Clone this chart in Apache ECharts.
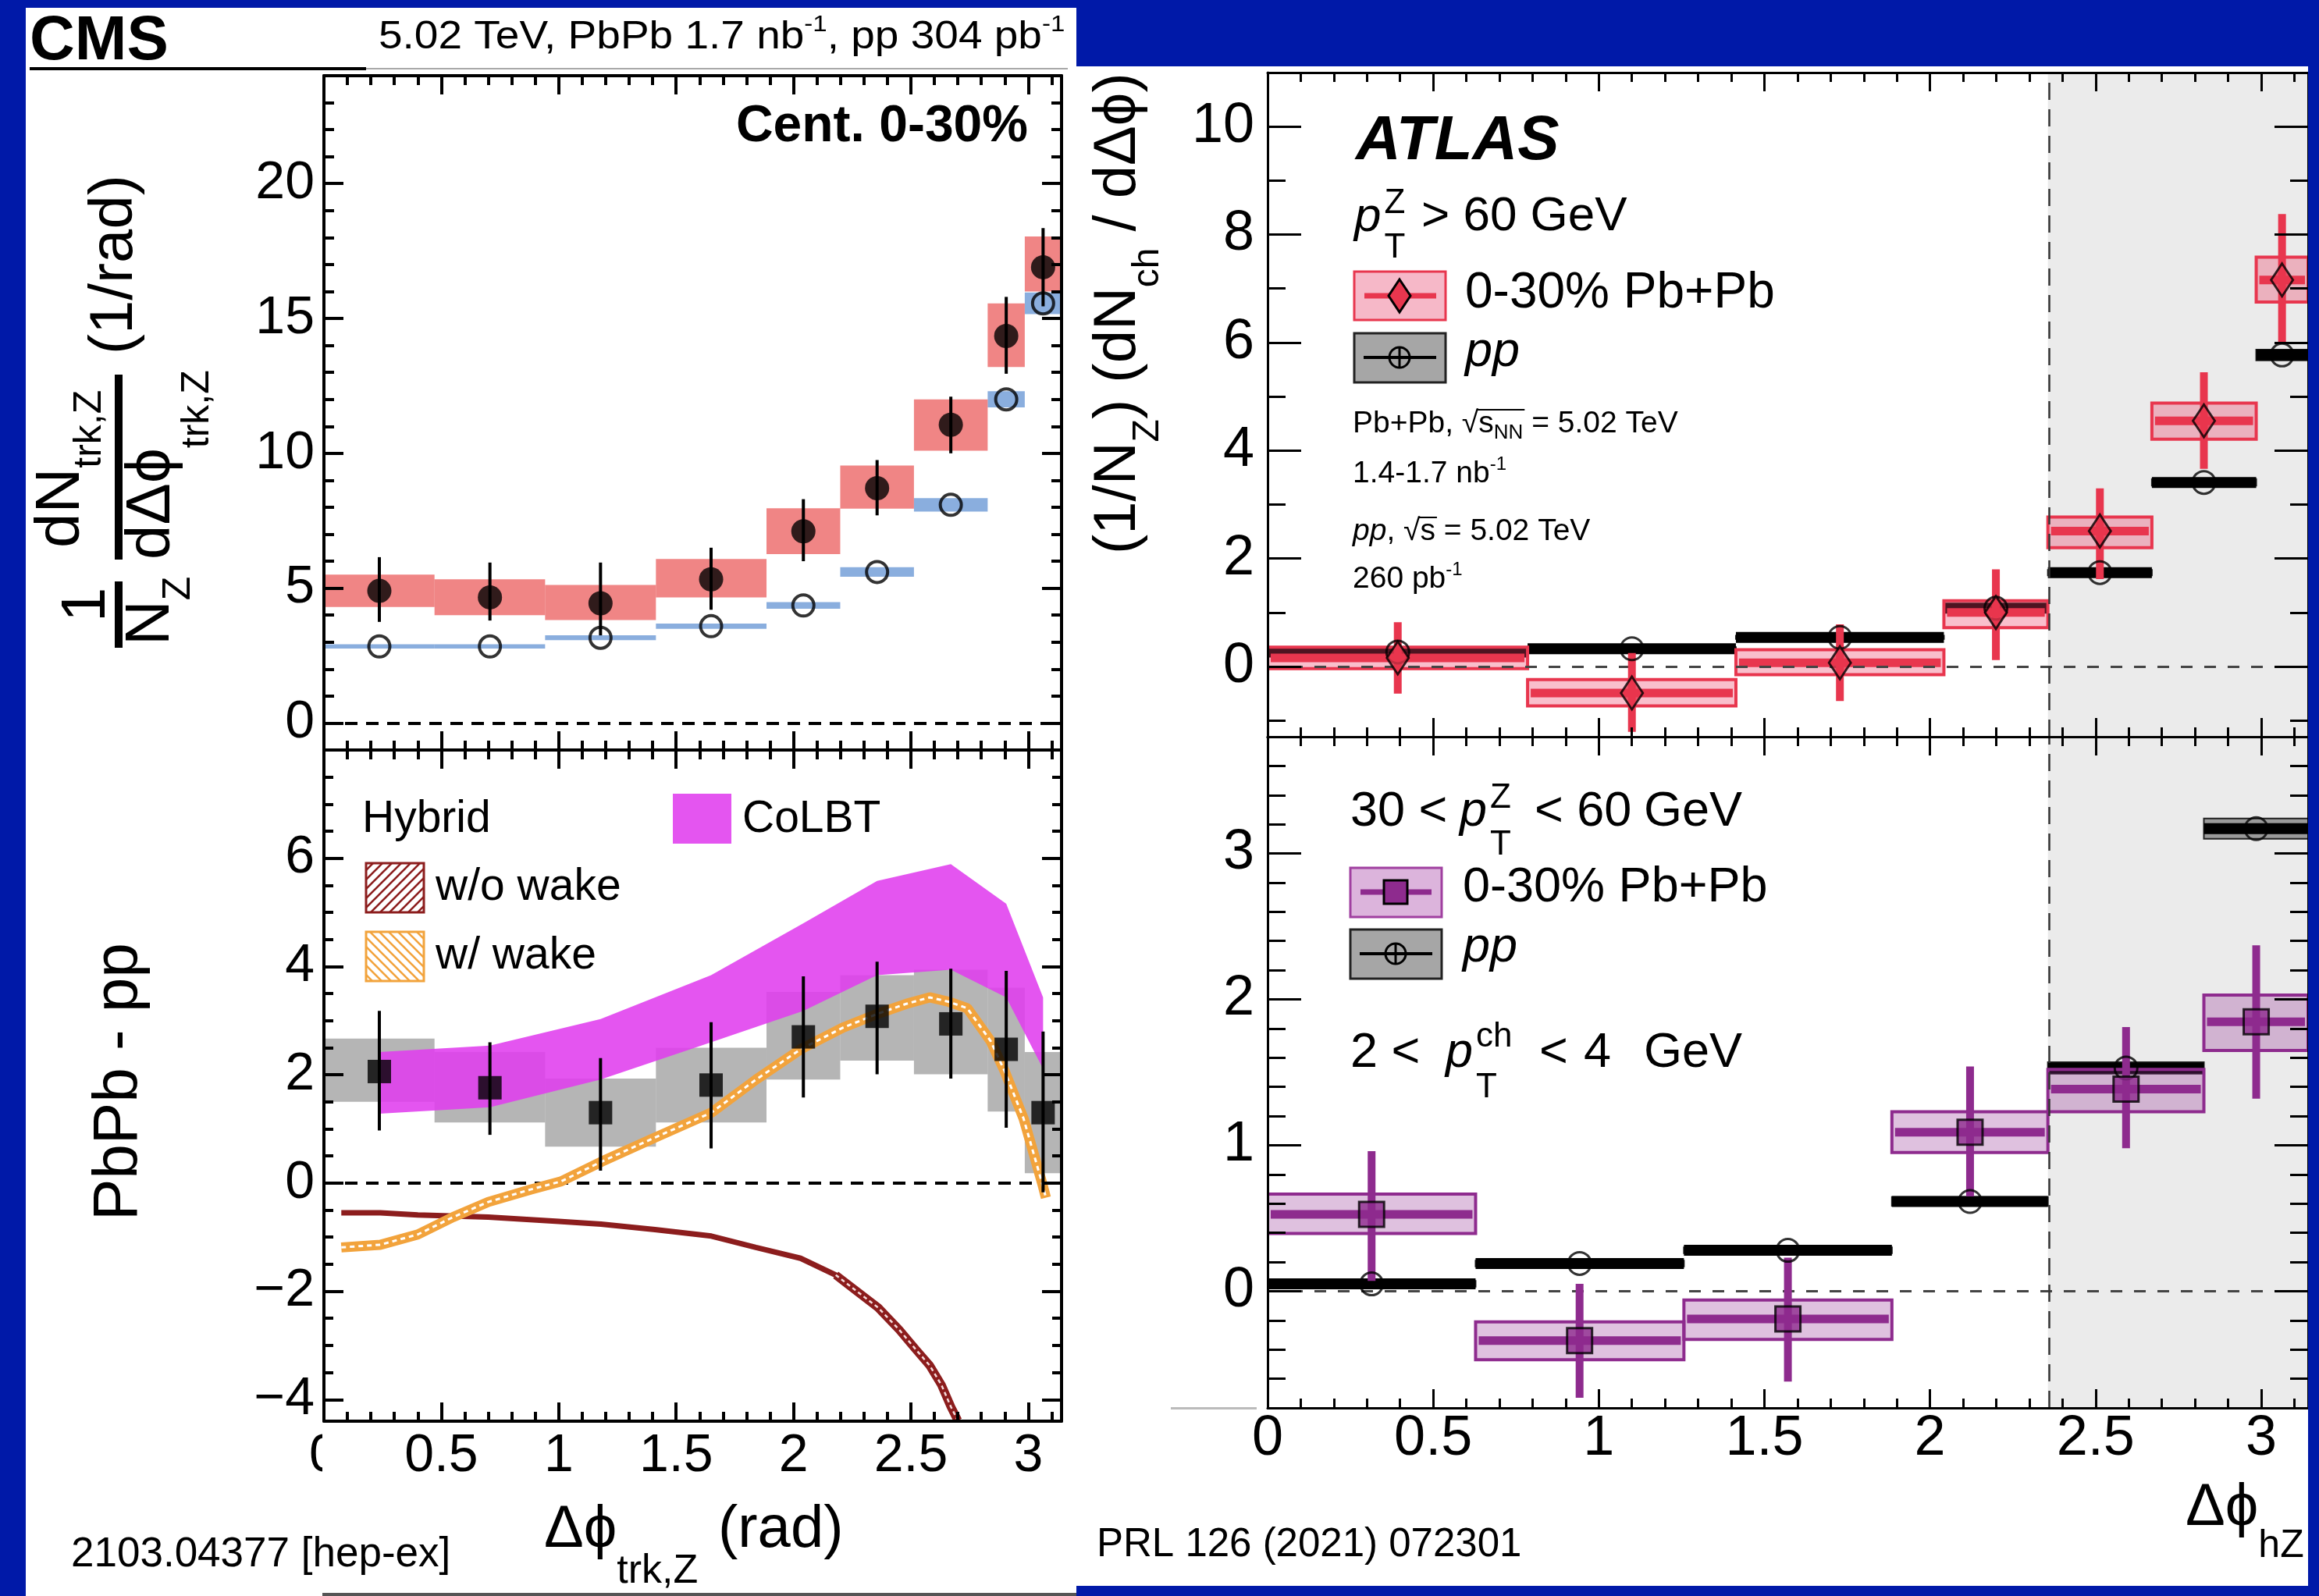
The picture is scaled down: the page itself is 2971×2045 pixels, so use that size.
<!DOCTYPE html>
<html><head><meta charset="utf-8">
<script src="https://cdn.jsdelivr.net/npm/echarts@6.0.0/dist/echarts.min.js"></script>
<style>html,body{margin:0;padding:0;background:#0019a8;}#c{width:2971px;height:2045px;}</style>
</head><body><div id="c"></div>
<script>
const PI = Math.PI;

// ---------------- CMS (left) ----------------
const cmsBinEdges   = [0, 0.471, 0.942, 1.414, 1.885, 2.199, 2.513, 2.827, 2.985, PI];
const cmsBinCenters = [0.236, 0.707, 1.178, 1.649, 2.042, 2.356, 2.670, 2.906, 3.063];
const cmsPbPb       = [4.9, 4.66, 4.44, 5.33, 7.11, 8.71, 11.06, 14.35, 16.9];
const cmsPbPbStatLo = [3.75, 3.8, 3.25, 4.2, 6.0, 7.7, 10.0, 12.95, 15.45];
const cmsPbPbStatHi = [6.15, 5.95, 5.95, 6.5, 8.3, 9.75, 12.1, 15.8, 18.35];
const cmsPbPbSysLo  = [4.3, 4.0, 3.82, 4.66, 6.26, 7.95, 10.1, 13.2, 16.0];
const cmsPbPbSysHi  = [5.5, 5.33, 5.12, 6.08, 7.96, 9.55, 12.0, 15.56, 18.04];
const cmsPP         = [2.84, 2.84, 3.16, 3.59, 4.36, 5.6, 8.09, 12.0, 15.56];
const cmsPPSys      = [0.08, 0.08, 0.09, 0.1, 0.12, 0.18, 0.25, 0.3, 0.4];

const cmsDiff       = [2.06, 1.76, 1.30, 1.81, 2.70, 3.08, 2.94, 2.47, 1.30];
const cmsDiffStatLo = [0.97, 0.89, 0.23, 0.64, 1.58, 2.01, 1.93, 1.02, -0.17];
const cmsDiffStatHi = [3.18, 2.6, 2.31, 2.97, 3.82, 4.09, 3.96, 3.92, 2.8];
const cmsDiffSysLo  = [1.50, 1.12, 0.67, 1.12, 1.91, 2.26, 2.01, 1.32, 0.18];
const cmsDiffSysHi  = [2.67, 2.42, 1.93, 2.5, 3.53, 3.84, 3.94, 3.61, 2.42];

const colbtX  = [0.236, 0.707, 1.178, 1.649, 2.042, 2.356, 2.670, 2.906, 3.063];
const colbtLo = [1.28, 1.40, 1.91, 2.60, 3.18, 3.84, 3.94, 3.43, 2.11];
const colbtHi = [2.42, 2.54, 3.03, 3.84, 4.80, 5.58, 5.89, 5.16, 3.43];

const hybWakeX = [0.074, 0.24, 0.40, 0.55, 0.70, 0.88, 1.01, 1.18, 1.41, 1.65, 1.84, 2.03, 2.21, 2.36, 2.48, 2.58, 2.66, 2.74, 2.84, 2.90, 2.98, 3.06, 3.075];
const hybWakeY = [-1.19, -1.14, -0.95, -0.63, -0.35, -0.12, 0.03, 0.39, 0.84, 1.30, 1.91, 2.47, 2.87, 3.13, 3.31, 3.43, 3.35, 3.23, 2.62, 2.06, 1.19, -0.02, -0.27];
const hybNoWakeX = [0.074, 0.24, 0.40, 0.70, 1.00, 1.18, 1.41, 1.65, 1.84, 2.03, 2.18, 2.27, 2.36, 2.45, 2.52, 2.58, 2.63, 2.67, 2.70];
const hybNoWakeY = [-0.55, -0.55, -0.59, -0.63, -0.71, -0.76, -0.86, -0.98, -1.19, -1.39, -1.70, -2.0, -2.30, -2.71, -3.07, -3.37, -3.73, -4.13, -4.39];

// ---------------- ATLAS (right) ----------------
const atlasHiEdges   = [0, 0.785, 1.414, 2.042, 2.356, 2.670, 2.985, PI];
const atlasHiCenters = [0.393, 1.100, 1.728, 2.199, 2.513, 2.827, 3.063];
const atlasHiPbPb    = [0.16, -0.49, 0.07, 1.0, 2.51, 4.55, 7.16];
const atlasHiStatLo  = [-0.5, -1.21, -0.64, 0.12, 1.62, 3.66, 5.97];
const atlasHiStatHi  = [0.82, 0.25, 0.78, 1.8, 3.3, 5.45, 8.38];
const atlasHiSysLo   = [-0.04, -0.73, -0.15, 0.72, 2.2, 4.21, 6.75];
const atlasHiSysHi   = [0.36, -0.24, 0.31, 1.22, 2.77, 4.88, 7.58];
const atlasHiPP      = [0.27, 0.33, 0.54, 1.08, 1.74, 3.41, 5.77];
const atlasHiPPSys   = [0.03, 0.03, 0.03, 0.04, 0.05, 0.06, 0.1];

const atlasLoEdges   = [0, 0.628, 1.257, 1.885, 2.356, 2.827, PI];
const atlasLoCenters = [0.314, 0.942, 1.571, 2.121, 2.592, 2.985];
const atlasLoPbPb    = [0.527, -0.338, -0.19, 1.09, 1.385, 1.846];
const atlasLoStatLo  = [0.07, -0.73, -0.62, 0.65, 0.98, 1.32];
const atlasLoStatHi  = [0.96, 0.05, 0.23, 1.54, 1.81, 2.37];
const atlasLoSysLo   = [0.396, -0.47, -0.33, 0.95, 1.23, 1.65];
const atlasLoSysHi   = [0.665, -0.21, -0.06, 1.23, 1.52, 2.03];
const atlasLoPP      = [0.05, 0.19, 0.28, 0.615, 1.53, 3.17];
const atlasLoPPSys   = [0.02, 0.02, 0.02, 0.03, 0.04, 0.07];
const atlasShadeStart = 2.356;

// ---------------- ticks ----------------
const cmsXTicks      = [0, 0.5, 1, 1.5, 2, 2.5, 3];
const cmsTopYTicks   = [0, 5, 10, 15, 20];
const cmsBotYTicks   = [-4, -2, 0, 2, 4, 6];
const atlasXTicks    = [0, 0.5, 1, 1.5, 2, 2.5, 3];
const atlasTopYTicks = [0, 2, 4, 6, 8, 10];
const atlasBotYTicks = [0, 1, 2, 3];

// =====================================================
const FONT = '"Liberation Sans", Arial, Helvetica, sans-serif';
const mc = document.createElement('canvas').getContext('2d');
function fontStr(p){ return (p.it?'italic ':'') + (p.b?'bold ':'') + p.s + 'px ' + FONT; }
function tw(p){ mc.font = fontStr(p); return mc.measureText(p.t).width; }
function richLine(x0, base, pieces, sx) {
  sx = sx || 1;
  let x = x0; const out = [];
  for (const p of pieces) {
    if (p.x !== undefined) x = p.x;
    x += p.dx || 0;
    p._x = x;
    out.push({type:'text', x: x, y: base + (p.dy||0) - 0.35*p.s, scaleX: sx, z: 50, silent: true,
      style:{text:p.t, font: fontStr(p), fill: p.c || '#000', align: p.al || 'left', verticalAlign:'middle',
             textAlign: p.al || 'left', textVerticalAlign:'middle'}});
    p._w = tw(p) * sx;
    if (p.adv !== false) x += p._w;
  }
  return out;
}

function rangeVals(a, b, step, skip) {
  const r = [];
  for (let k = 0; a + k*step <= b + 1e-9; k++) {
    const v = Math.round((a + k*step)*1000)/1000;
    if (!skip.some(s => Math.abs(s - v) < 1e-6)) r.push(v);
  }
  return r;
}

const grids = [
  {left: 415, top: 97, width: 945, height: 864},
  {left: 415, top: 961, width: 945, height: 860},
  {left: 1624, top: 93, width: 1333, height: 851},
  {left: 1624, top: 944, width: 1333, height: 860}
];

const xAxes = [], yAxes = [];
function addAxis(list, o) {
  list.push(Object.assign({type:'value', z: 10, silent: true, splitLine:{show:false}, minorTick:{show:false}, axisPointer:{show:false}}, o));
  return list.length - 1;
}
const fmt = v => v < 0 ? '\u2212' + Math.abs(v) : String(v);
function panel(g, xr, yr, c) {
  const lineOn = {show:true, onZero:false, lineStyle:{color:'#000', width:c.lw}};
  const lineOff = {show:false, onZero:false};
  const tick = (vals, len) => ({show:true, inside:true, length:len, customValues:vals, lineStyle:{color:'#000', width:c.lw}});
  const noLab = {show:false};
  const lab = (vals, margin) => ({show:true, customValues:vals, formatter: fmt, fontSize:c.fs, fontFamily:FONT, color:'#000', margin:margin});
  const X = (pos, line, tk, label) => addAxis(xAxes, {gridIndex:g, min:xr[0], max:xr[1], position:pos, axisLine:line, axisTick:tk, axisLabel:label});
  const Y = (pos, line, tk, label) => addAxis(yAxes, {gridIndex:g, min:yr[0], max:yr[1], position:pos, axisLine:line, axisTick:tk, axisLabel:label});
  const xm = X('bottom', lineOn, tick(c.xMaj, c.xMajLen), c.xLab ? lab(c.xMaj, c.xMargin) : noLab);
  X('bottom', lineOff, tick(c.xMin, c.xMinLen), noLab);
  X('top', lineOn, tick(c.xMaj, c.xMajLen), noLab);
  X('top', lineOff, tick(c.xMin, c.xMinLen), noLab);
  const ym = Y('left', lineOn, tick(c.yMaj, c.yMajLen), lab(c.yMaj, c.yMargin));
  Y('left', lineOff, tick(c.yMin, c.yMinLen), noLab);
  Y('right', lineOn, tick(c.yMaj, c.yMajLen), noLab);
  Y('right', lineOff, tick(c.yMin, c.yMinLen), noLab);
  return {x: xm, y: ym};
}

const cmsXMin = rangeVals(0.1, 3.1, 0.1, cmsXTicks);
const P0 = panel(0, [0, PI], [-1, 24], {lw:4, fs:68, xMaj:cmsXTicks, xMin:cmsXMin, xMajLen:24, xMinLen:12,
  yMaj:cmsTopYTicks, yMin:rangeVals(-1, 23, 1, cmsTopYTicks), yMajLen:25, yMinLen:13, xLab:false, yMargin:12});
const P1 = panel(1, [0, PI], [-4.4, 8], {lw:4, fs:68, xMaj:cmsXTicks, xMin:cmsXMin, xMajLen:24, xMinLen:12,
  yMaj:cmsBotYTicks, yMin:rangeVals(-4, 7.5, 0.5, cmsBotYTicks), yMajLen:25, yMinLen:12, xLab:true, xMargin:11, yMargin:12});
const atXMin = rangeVals(0.1, 3.1, 0.1, atlasXTicks);
const P2 = panel(2, [0, PI], [-1.3, 11], {lw:3, fs:72, xMaj:atlasXTicks, xMin:atXMin, xMajLen:24, xMinLen:12,
  yMaj:atlasTopYTicks, yMin:[-1, 1, 3, 5, 7, 9], yMajLen:43, yMinLen:23, xLab:false, yMargin:17});
const P3 = panel(3, [0, PI], [-0.8, 3.8], {lw:3, fs:72, xMaj:atlasXTicks, xMin:atXMin, xMajLen:24, xMinLen:12,
  yMaj:atlasBotYTicks, yMin:rangeVals(-0.8, 3.8, 0.2, atlasBotYTicks), yMajLen:43, yMinLen:23, xLab:true, xMargin:4, yMargin:17});

// ---------------- render helpers ----------------
function rectItem(fill, stroke, lw, center, centerW) {
  return (params, api) => {
    const a = api.coord([api.value(0), api.value(3)]);
    const b = api.coord([api.value(1), api.value(2)]);
    const ch = [{type:'rect', shape:{x:a[0], y:a[1], width:b[0]-a[0], height:b[1]-a[1]},
      style:{fill: fill, stroke: stroke || null, lineWidth: lw || 0}}];
    if (center) {
      const c0 = api.coord([api.value(0), api.value(4)]), c1 = api.coord([api.value(1), api.value(4)]);
      ch.push({type:'line', shape:{x1:c0[0] + (lw||0), y1:c0[1], x2:c1[0] - (lw||0), y2:c1[1]}, style:{stroke:center, lineWidth:centerW}});
    }
    return {type:'group', children: ch};
  };
}
function vbarItem(color, w) {
  return (params, api) => {
    const a = api.coord([api.value(0), api.value(1)]), b = api.coord([api.value(0), api.value(2)]);
    return {type:'line', shape:{x1:a[0], y1:a[1], x2:b[0], y2:b[1]}, style:{stroke:color, lineWidth:w}};
  };
}
function hbarItem(color, w) {
  return (params, api) => {
    const a = api.coord([api.value(0), api.value(2)]), b = api.coord([api.value(1), api.value(2)]);
    return {type:'line', shape:{x1:a[0], y1:a[1], x2:b[0], y2:b[1]}, style:{stroke:color, lineWidth:w}};
  };
}
function bandItem(xs, lo, hi, fill) {
  return (params, api) => {
    if (params.dataIndex !== 0) return null;
    const pts = [];
    for (let i = 0; i < xs.length; i++) pts.push(api.coord([xs[i], hi[i]]));
    for (let i = xs.length - 1; i >= 0; i--) pts.push(api.coord([xs[i], lo[i]]));
    return {type:'polygon', shape:{points:pts}, style:{fill:fill}};
  };
}

const series = [];
function S(P, o) { series.push(Object.assign({xAxisIndex:P.x, yAxisIndex:P.y, animation:false, silent:true}, o)); }
function custom(P, z, data, fn) { S(P, {type:'custom', z:z, data:data, renderItem:fn, clip:true}); }
function helper(P, markLine, markArea) {
  const o = {type:'scatter', z:1, symbolSize:0, data:[[0, 0]], markLine:markLine};
  if (markArea) o.markArea = markArea;
  S(P, o);
}

// ---- CMS top ----
helper(P0, {silent:true, symbol:['none','none'], animation:false, label:{show:false},
  lineStyle:{color:'#000', width:4, type:[16, 11]}, data:[{yAxis:0}]});
custom(P0, 3, cmsBinCenters.map((c,i)=>[cmsBinEdges[i], cmsBinEdges[i+1], cmsPP[i]-cmsPPSys[i], cmsPP[i]+cmsPPSys[i]]),
  rectItem('rgba(60,120,200,0.6)'));
custom(P0, 4, cmsBinCenters.map((c,i)=>[cmsBinEdges[i], cmsBinEdges[i+1], cmsPbPbSysLo[i], cmsPbPbSysHi[i]]),
  rectItem('rgba(232,64,64,0.64)'));
custom(P0, 5, cmsBinCenters.map((c,i)=>[c, cmsPbPbStatLo[i], cmsPbPbStatHi[i]]), vbarItem('#000', 4));
S(P0, {type:'scatter', z:6, symbol:'circle', symbolSize:27, data:cmsBinCenters.map((c,i)=>[c, cmsPP[i]]),
  itemStyle:{color:'rgba(0,0,0,0)', borderColor:'#000', borderWidth:4}});
S(P0, {type:'scatter', z:7, symbol:'circle', symbolSize:31, data:cmsBinCenters.map((c,i)=>[c, cmsPbPb[i]]),
  itemStyle:{color:'#000'}});

// ---- CMS bottom ----
helper(P1, {silent:true, symbol:['none','none'], animation:false, label:{show:false},
  lineStyle:{color:'#000', width:4, type:[16, 11]}, data:[{yAxis:0}]});
custom(P1, 3, cmsBinCenters.map((c,i)=>[cmsBinEdges[i], cmsBinEdges[i+1], cmsDiffSysLo[i], cmsDiffSysHi[i]]),
  rectItem('rgba(120,120,120,0.55)'));
custom(P1, 4, colbtX.map((x,i)=>[x, colbtLo[i], colbtHi[i]]), bandItem(colbtX, colbtLo, colbtHi, 'rgba(224,62,238,0.88)'));
const noWakePts = hybNoWakeX.map((x,i)=>[x, hybNoWakeY[i]]);
S(P1, {type:'line', z:5, showSymbol:false, symbol:'none', data:noWakePts, lineStyle:{color:'#8c1d1d', width:7}});
const noWakeSteep = noWakePts.filter(p => p[0] >= 2.18);
S(P1, {type:'line', z:5, showSymbol:false, symbol:'none', data:noWakeSteep, lineStyle:{color:'#8c1d1d', width:11}});
S(P1, {type:'line', z:6, showSymbol:false, symbol:'none', data:noWakeSteep, lineStyle:{color:'#f4dcdc', width:2.5, type:[5, 4]}});
S(P1, {type:'line', z:5, showSymbol:false, symbol:'none', data:hybWakeX.map((x,i)=>[x, hybWakeY[i]]),
  lineStyle:{color:'#f2a33c', width:13}});
S(P1, {type:'line', z:6, showSymbol:false, symbol:'none', data:hybWakeX.map((x,i)=>[x, hybWakeY[i]]),
  lineStyle:{color:'#ffffff', width:3, type:[6, 5]}});
custom(P1, 7, cmsBinCenters.map((c,i)=>[c, cmsDiffStatLo[i], cmsDiffStatHi[i]]), vbarItem('#000', 4));
S(P1, {type:'scatter', z:8, symbol:'rect', symbolSize:30, data:cmsBinCenters.map((c,i)=>[c, cmsDiff[i]]),
  itemStyle:{color:'#000'}});

// ---- ATLAS shared style ----
function atlasPanel(P, edges, centers, val, sLo, sHi, bLo, bHi, pp, ppSys, col) {
  helper(P, {silent:true, symbol:['none','none'], animation:false, label:{show:false}, data:[
      {yAxis:0, lineStyle:{color:'#444', width:3, type:[15, 15]}},
      {xAxis:atlasShadeStart, lineStyle:{color:'#333', width:2.5, type:[22, 12]}}
    ]},
    {silent:true, animation:false, itemStyle:{color:'#ebebeb'}, data:[[{xAxis:atlasShadeStart}, {xAxis:PI}]]});
  custom(P, 3, centers.map((c,i)=>[edges[i], edges[i+1], pp[i]-ppSys[i], pp[i]+ppSys[i]]), rectItem('#9a9a9a', '#222', 2));
  custom(P, 3, centers.map((c,i)=>[edges[i], edges[i+1], pp[i]]), hbarItem('#000', 14));
  custom(P, 4, centers.map((c,i)=>[edges[i], edges[i+1], bLo[i], bHi[i], val[i]]), rectItem(col.fill, col.line, 4, col.line, 11));
  custom(P, 5, centers.map((c,i)=>[c, sLo[i], sHi[i]]), vbarItem(col.line, 10));
  S(P, {type:'scatter', z:6, symbol:'circle', symbolSize:29, data:centers.map((c,i)=>[c, pp[i]]),
    itemStyle:{color:'rgba(0,0,0,0)', borderColor:'#000', borderWidth:3}});
  S(P, {type:'scatter', z:7, symbol:col.symbol, symbolSize:col.size, data:centers.map((c,i)=>[c, val[i]]),
    itemStyle:{color:col.marker, borderColor:'#000', borderWidth:3}});
}
atlasPanel(P2, atlasHiEdges, atlasHiCenters, atlasHiPbPb, atlasHiStatLo, atlasHiStatHi, atlasHiSysLo, atlasHiSysHi, atlasHiPP, atlasHiPPSys,
  {fill:'rgba(236,60,100,0.33)', line:'#e8364e', marker:'#e8364e', symbol:'diamond', size:[28, 42]});
atlasPanel(P3, atlasLoEdges, atlasLoCenters, atlasLoPbPb, atlasLoStatLo, atlasLoStatHi, atlasLoSysLo, atlasLoSysHi, atlasLoPP, atlasLoPPSys,
  {fill:'rgba(150,50,150,0.3)', line:'#8e2b8e', marker:'#8e2b8e', symbol:'rect', size:32});

// ---------------- graphics ----------------
function hatch(color, dir) {
  const c = document.createElement('canvas'); c.width = 12; c.height = 12;
  const g = c.getContext('2d'); g.strokeStyle = color; g.lineWidth = 2.6; g.beginPath();
  if (dir > 0) { g.moveTo(-2, 14); g.lineTo(14, -2); g.moveTo(-8, 8); g.lineTo(8, -8); g.moveTo(4, 20); g.lineTo(20, 4); }
  else { g.moveTo(-2, -2); g.lineTo(14, 14); g.moveTo(-8, 4); g.lineTo(8, 20); g.moveTo(4, -8); g.lineTo(20, 8); }
  g.stroke(); return c;
}
const BLUE = '#0019a8';
const G = [];
const rect = (x, y, w, h, style, z) => G.push({type:'rect', silent:true, z: z === undefined ? -10 : z, shape:{x, y, width:w, height:h}, style});
// backgrounds
rect(33, 10, 1346, 2035, {fill:'#fff'});
rect(1379, 85, 1578, 1947, {fill:'#fff'});
rect(38, 86, 431, 4, {fill:'#000'}, -5);
rect(469, 87, 899, 2, {fill:'#a8a8a8'}, -5);
rect(413, 2041, 966, 4, {fill:'#555'}, -5);
rect(1500, 1803, 110, 3, {fill:'#bbb'}, -5);
// overlays
rect(413, 1832, 60, 70, {fill:'#fff'}, 60);
rect(2957, 0, 14, 2045, {fill:BLUE}, 60);

// CMS header
G.push(...richLine(38, 82, [{t:'CMS', s:80, b:true}]));
G.push(...richLine(485, 66, [{t:'5.02 TeV, PbPb 1.7 nb', s:50}, {t:'-1', s:30, dy:-24}, {t:', pp 304 pb', s:50}, {t:'-1', s:30, dy:-24}], 1.1));
G.push(...richLine(1317, 186, [{t:'Cent. 0-30%', s:66, b:true, al:'right'}]));

// CMS y label (rotated)
const rotG = (children) => G.push({type:'group', x:0, y:0, rotation:PI/2, z:50, silent:true, children});
rotG([
  ...richLine(-797, 140, [{t:'1', s:80}]),
  ...richLine(-827, 222, [{t:'N', s:80}, {t:'Z', s:50, dy:25}]),
  ...richLine(-702, 107, [{t:'dN', s:80}, {t:'trk,Z', s:50, dy:26}]),
  ...richLine(-717, 223, [{t:'d\u0394\u03d5', s:80}, {t:'trk,Z', s:50, dy:48}]),
  ...richLine(-454, 175, [{t:'(1/rad)', s:78}])
]);
rect(147, 480, 10, 237, {fill:'#000'}, 50);
rect(147, 745, 10, 85, {fill:'#000'}, 50);
// CMS bottom y label
rotG([...richLine(-1564, 181, [{t:'PbPb - pp', s:80}])]);

// CMS x title & ref
G.push(...richLine(697, 1988, [{t:'\u0394\u03d5', s:76}, {t:'trk,Z', s:52, dy:44}, {t:'(rad)', s:76, x:920}]));
G.push(...richLine(91, 2011, [{t:'2103.04377 [hep-ex]', s:53}]));

// CMS legend
G.push(...richLine(464, 1070, [{t:'Hybrid', s:57}]));
rect(862, 1017, 75, 64, {fill:'rgba(224,62,238,0.88)'}, 50);
G.push(...richLine(951, 1070, [{t:'CoLBT', s:57}]));
rect(469, 1106, 74, 63, {fill:{image:hatch('#8c1d1d', 1), repeat:'repeat'}, stroke:'#8c1d1d', lineWidth:3}, 50);
G.push(...richLine(558, 1157, [{t:'w/o wake', s:57}]));
rect(469, 1194, 74, 63, {fill:{image:hatch('#f2a33c', -1), repeat:'repeat'}, stroke:'#f2a33c', lineWidth:3}, 50);
G.push(...richLine(558, 1245, [{t:'w/ wake', s:57}]));

// ATLAS y label (rotated)
rotG([...richLine(-710, 1460, [{t:'(1/N', s:76}, {t:'Z', s:48, dy:28}, {t:') (dN', s:76}, {t:'ch', s:48, dy:28}, {t:' / d\u0394\u03d5)', s:76}])]);

// ATLAS top legend
G.push(...richLine(1737, 210, [{t:'ATLAS', s:80, b:true, it:true}]));
G.push(...richLine(1735, 300, [{t:'p', s:62, it:true}, {t:'Z', s:44, dy:-24, adv:false, dx:4}, {t:'T', s:44, dy:33}, {t:'> 60 GeV', s:62, x:1821}]));
function legendBox(x, y, w, h, fill, stroke) { rect(x, y, w, h, {fill, stroke, lineWidth:3}, 50); }
function hline(x1, x2, y, color, w) { G.push({type:'line', silent:true, z:51, shape:{x1, y1:y, x2, y2:y}, style:{stroke:color, lineWidth:w}}); }
legendBox(1735, 348, 117, 62, '#f6b8c8', '#e8364e');
hline(1748, 1840, 379, '#e8364e', 7);
G.push({type:'polygon', silent:true, z:52, shape:{points:[[1793,358],[1807,379],[1793,400],[1779,379]]}, style:{fill:'#e8364e', stroke:'#000', lineWidth:3}});
G.push(...richLine(1877, 399, [{t:'0-30% Pb+Pb', s:64}]));
function ppGlyph(cx, cy, x, y, w, h) {
  legendBox(x, y, w, h, '#a6a6a6', '#222');
  hline(x + 12, x + w - 12, cy, '#000', 4);
  G.push({type:'circle', silent:true, z:52, shape:{cx, cy, r:13}, style:{fill:'none', stroke:'#000', lineWidth:3}});
  G.push({type:'line', silent:true, z:52, shape:{x1:cx, y1:cy-13, x2:cx, y2:cy+13}, style:{stroke:'#000', lineWidth:3}});
}
ppGlyph(1793, 458, 1735, 427, 117, 63);
G.push(...richLine(1877, 474, [{t:'pp', s:63, it:true}]));
const l1 = [{t:'Pb+Pb, ', s:39}, {t:'\u221a', s:39}, {t:'s', s:39}, {t:'NN', s:26, dy:7}, {t:' = 5.02 TeV', s:39}];
G.push(...richLine(1733, 557, l1));
hline(l1[1]._x + l1[1]._w - 2, l1[3]._x + l1[3]._w + 2, 525, '#000', 2);
G.push(...richLine(1733, 621, [{t:'1.4-1.7 nb', s:39}, {t:'-1', s:24, dy:-17}]));
const l3 = [{t:'pp', s:39, it:true}, {t:', ', s:39}, {t:'\u221a', s:39}, {t:'s', s:39}, {t:' = 5.02 TeV', s:39}];
G.push(...richLine(1733, 695, l3));
hline(l3[2]._x + l3[2]._w - 2, l3[3]._x + l3[3]._w + 2, 663, '#000', 2);
G.push(...richLine(1733, 756, [{t:'260 pb', s:39}, {t:'-1', s:24, dy:-17}]));

// ATLAS bottom legend
G.push(...richLine(1730, 1063, [{t:'30 < ', s:63}, {t:'p', s:63, it:true, x:1870}, {t:'Z', s:44, dy:-25, adv:false, dx:4}, {t:'T', s:44, dy:35}, {t:'< 60', s:63, x:1966}, {t:'GeV', s:63, x:2106}]));
legendBox(1730, 1112, 117, 63, '#dcb4dc', '#a040a0');
hline(1743, 1834, 1143, '#8e2b8e', 7);
rect(1773, 1128, 30, 30, {fill:'#8e2b8e', stroke:'#000', lineWidth:3}, 52);
G.push(...richLine(1874, 1160, [{t:'0-30% Pb+Pb', s:63}]));
ppGlyph(1788, 1222, 1730, 1191, 117, 63);
G.push(...richLine(1874, 1237, [{t:'pp', s:63, it:true}]));
G.push(...richLine(1730, 1372, [{t:'2 < ', s:63}, {t:'p', s:63, it:true, x:1852}, {t:'ch', s:44, dy:-28, adv:false, dx:4}, {t:'T', s:44, dy:37}, {t:'<', s:63, x:1972}, {t:'4', s:63, x:2029}, {t:'GeV', s:63, x:2106}]));

// ATLAS axis title & ref
G.push(...richLine(2800, 1960, [{t:'\u0394\u03d5', s:76}, {t:'hZ', s:50, dy:39}]));
G.push(...richLine(1405, 1998, [{t:'PRL 126 (2021) 072301', s:51}]));

const chart = echarts.init(document.getElementById('c'), null, {renderer:'canvas', width:2971, height:2045});
chart.setOption({
  backgroundColor: BLUE,
  animation: false,
  grid: grids.map(g => Object.assign({containLabel:false, show:false}, g)),
  xAxis: xAxes,
  yAxis: yAxes,
  series: series,
  graphic: {elements: G}
});
</script></body></html>
